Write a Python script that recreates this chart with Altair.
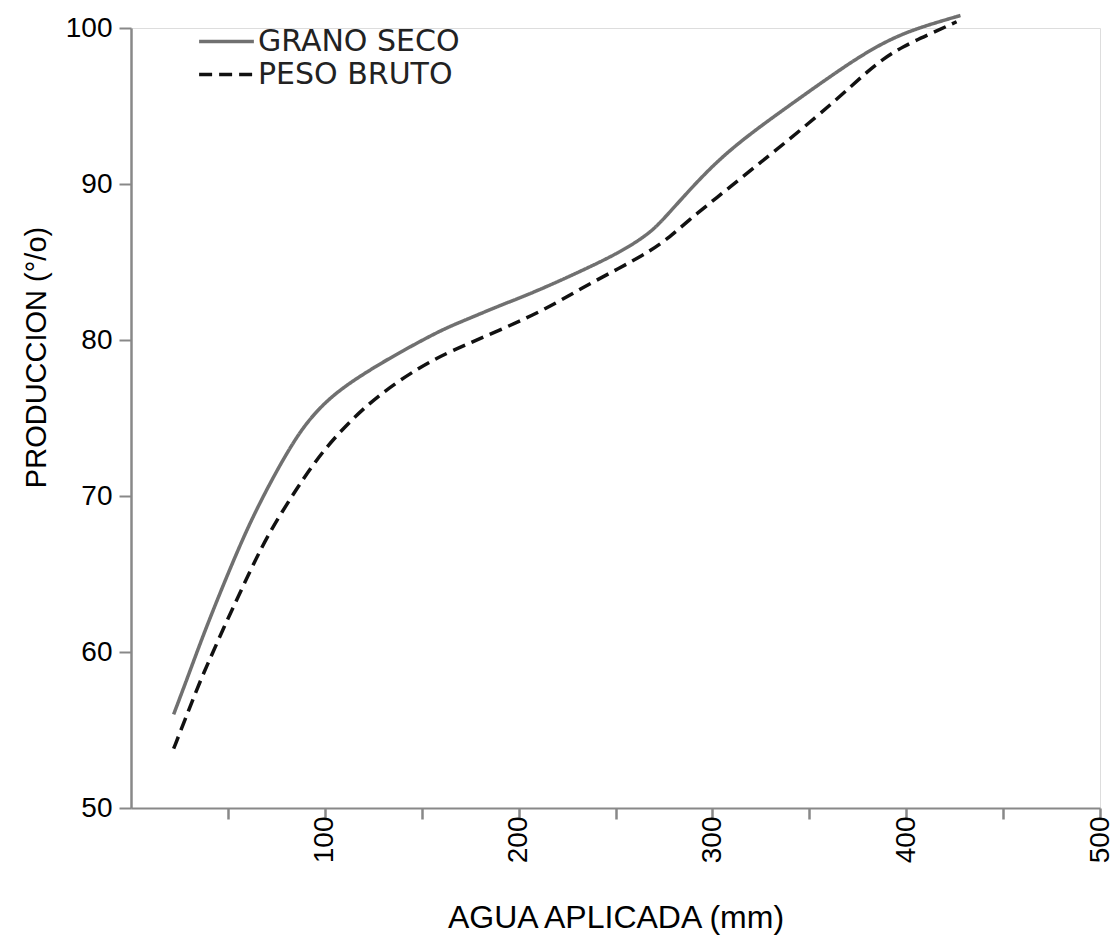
import altair as alt
import pandas as pd

# Data
grano_x = [22, 29, 37, 46, 52, 61, 72, 82, 91, 104, 122, 140, 161, 173, 190, 207, 232, 252, 266, 273, 283, 300, 318, 345, 362, 380, 397, 414, 428]
grano_y = [56.0, 58.3, 61.0, 63.8, 65.6, 68.2, 70.9, 73.1, 74.8, 76.5, 78.0, 79.3, 80.7, 81.3, 82.2, 83.0, 84.4, 85.6, 86.7, 87.5, 88.9, 91.2, 93.1, 95.5, 97.0, 98.5, 99.6, 100.3, 100.8]

peso_x = [22, 28, 33, 38, 42, 48, 54, 60, 70, 86, 99, 113, 128, 148, 165, 190, 216, 232, 252, 268, 278, 288, 299, 309, 321, 331, 345, 362, 371, 380, 388, 398, 412, 426]
peso_y = [53.8, 55.7, 57.3, 58.8, 59.9, 61.6, 63.2, 64.8, 67.4, 70.6, 72.9, 74.8, 76.5, 78.2, 79.3, 80.6, 82.1, 83.3, 84.6, 85.7, 86.6, 87.7, 88.8, 89.8, 91.0, 92.0, 93.4, 95.2, 96.2, 97.2, 98.0, 98.8, 99.6, 100.4]

series_names = ["GRANO SECO", "PESO BRUTO"]
x_ticks = [50, 100, 150, 200, 250, 300, 350, 400, 450, 500]
y_ticks = [50, 60, 70, 80, 90, 100]

df = pd.concat([
    pd.DataFrame({"agua": grano_x, "prod": grano_y, "serie": series_names[0], "orden": range(len(grano_x))}),
    pd.DataFrame({"agua": peso_x, "prod": peso_y, "serie": series_names[1], "orden": range(len(peso_x))}),
])

FONT = "DejaVu Sans"

legend_kw = dict(title=None, orient="none", legendX=66, legendY=-3,
                 symbolType="stroke", symbolSize=3000, symbolStrokeWidth=3.5,
                 labelFontSize=30, labelOffset=2, rowPadding=0, clipHeight=33,
                 labelLimit=0, padding=0, labelColor="#222222", labelFont=FONT)

chart = alt.Chart(df).mark_line(strokeWidth=3.5, interpolate="basis").encode(
    x=alt.X("agua:Q",
            scale=alt.Scale(domain=[0, 500], nice=False, zero=False),
            axis=alt.Axis(values=x_ticks, title="AGUA APLICADA (mm)",
                          labelExpr="datum.value % 100 == 0 ? datum.label : ''",
                          labelAngle=270, labelFontSize=28, labelPadding=-3,
                          tickSize=11, tickWidth=2.5, domainWidth=2,
                          titleFontSize=32, titleFontWeight="normal", titlePadding=40,
                          grid=False)),
    y=alt.Y("prod:Q",
            scale=alt.Scale(domain=[50, 100], nice=False, zero=False),
            axis=alt.Axis(values=y_ticks, title="PRODUCCION (°/o)",
                          labelFontSize=28, labelPadding=7, tickSize=12, tickWidth=2,
                          domainWidth=2.5, titleFontSize=29, titleFontWeight="normal",
                          titleAngle=270, titleX=-86, titleY=329, titleAlign="center",
                          titleBaseline="alphabetic", grid=False)),
    color=alt.Color("serie:N",
                    scale=alt.Scale(domain=series_names, range=["#707070", "#111111"]),
                    legend=alt.Legend(**legend_kw)),
    strokeDash=alt.StrokeDash("serie:N",
                              scale=alt.Scale(domain=series_names, range=[[1, 0], [13, 7]]),
                              legend=alt.Legend(**legend_kw)),
    order="orden:Q",
).properties(
    width=969, height=780,
    autosize=alt.AutoSizeParams(type="none"),
    padding={"left": 131, "top": 28, "right": 20, "bottom": 133},
).configure_view(stroke=None).configure_axis(
    domainColor="#111111", tickColor="#111111", labelColor="#222222",
    titleColor="#222222", labelFont=FONT, titleFont=FONT,
).configure(background="white")

chart.save("out.html", embed_options={"renderer": "svg", "actions": False})
